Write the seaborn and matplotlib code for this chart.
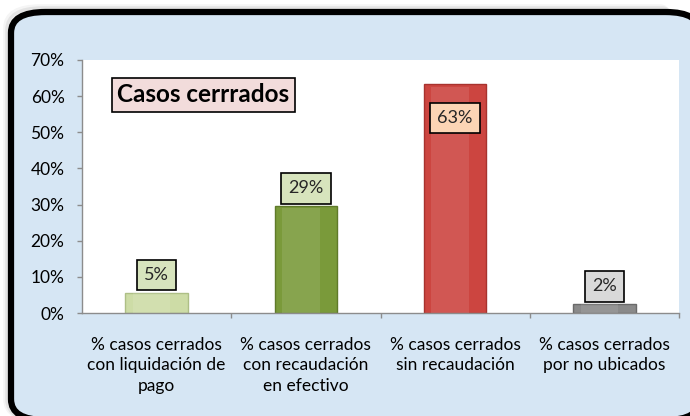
import matplotlib
matplotlib.use("Agg")
import matplotlib.pyplot as plt
import seaborn as sns
import numpy as np
from matplotlib.patches import FancyBboxPatch

categories = [
    "% casos cerrados\ncon liquidación de\npago",
    "% casos cerrados\ncon recaudación\nen efectivo",
    "% casos cerrados\nsin recaudación",
    "% casos cerrados\npor no ubicados",
]
values = [0.055, 0.295, 0.634, 0.024]
value_labels = ["5%", "29%", "63%", "2%"]
yticks = [0, 0.1, 0.2, 0.3, 0.4, 0.5, 0.6, 0.7]
ytick_labels = ["0%", "10%", "20%", "30%", "40%", "50%", "60%", "70%"]
title = "Casos cerrrados"

bar_colors = ["#cddca6", "#7a9a3a", "#cc4540", "#8a8a8a"]
bar_edges = ["#aebf86", "#5f7a2a", "#a8322e", "#6a6a6a"]
label_fills = ["#d7e4bd", "#d7e4bd", "#fcd5b5", "#d9d9d9"]

sns.set_theme(style="white")
plt.rcParams["font.family"] = ["Lato", "DejaVu Sans"]

W, H = 690, 416
fig = plt.figure(figsize=(W / 100, H / 100), dpi=100)
fig.patch.set_facecolor("white")

def fx(px):
    return px / W

def fy(py):
    return 1 - py / H

# shadow
for off, a in [(5, 0.08), (3, 0.14)]:
    sh = FancyBboxPatch((fx(11 - off), fy(420)), fx(700) - fx(11), fy(12 - off) - fy(420),
                        boxstyle="round,pad=0,rounding_size=0.05", transform=fig.transFigure,
                        facecolor="none", edgecolor="#808080", lw=4, alpha=a, zorder=0)
    fig.patches.append(sh)
frame = FancyBboxPatch((fx(11), fy(420)), fx(700) - fx(11), fy(12) - fy(420),
                       boxstyle="round,pad=0,rounding_size=0.05", transform=fig.transFigure,
                       facecolor="#d6e6f4", edgecolor="black", lw=4.5, zorder=1)
fig.patches.append(frame)

ax = fig.add_axes([fx(82), fy(313), fx(679) - fx(82), fy(60) - fy(313)])
ax.set_facecolor("white")
ax.set_zorder(2)

sns.barplot(x=list(range(len(categories))), y=values, hue=list(range(len(categories))),
            palette=bar_colors, width=0.42, legend=False, ax=ax, saturation=1)

for i, p in enumerate(ax.patches):
    p.set_edgecolor(bar_edges[i])
    p.set_linewidth(1.0)
    x0, w, h = p.get_x(), p.get_width(), p.get_height()
    ax.add_patch(plt.Rectangle((x0 + w * 0.12, 0), w * 0.6, h * 0.985,
                               facecolor="white", alpha=0.10, lw=0, zorder=3))

ax.set_xlim(-0.5, len(categories) - 0.5)
ax.set_ylim(0, 0.7)
ax.set_yticks(yticks)
ax.set_yticklabels(ytick_labels, fontsize=12.5, color="black")
ax.set_xticks(range(len(categories)))
ax.set_xticklabels(categories, fontsize=12.5, color="black", linespacing=1.35)
ax.set_xticks(np.arange(0.5, len(categories), 1), minor=True)
ax.tick_params(axis="x", which="major", length=0, pad=17)
ax.tick_params(axis="x", which="minor", length=3.6, width=1, color="#8c8c8c", direction="out", bottom=True)
ax.tick_params(axis="y", length=3.6, width=1, color="#8c8c8c", direction="out", left=True, pad=9)
ax.set_xlabel("")
ax.set_ylabel("")
for s in ["top", "right"]:
    ax.spines[s].set_visible(False)
for s in ["left", "bottom"]:
    ax.spines[s].set_color("#8c8c8c")
    ax.spines[s].set_linewidth(1)

for i, (v, lab) in enumerate(zip(values, value_labels)):
    if i == 2:
        ax.annotate(lab, (i, v), xytext=(0, -26), textcoords="offset pixels",
                    ha="center", va="top", fontsize=13, zorder=5,
                    bbox=dict(boxstyle="square,pad=0.4", facecolor=label_fills[i], edgecolor="black", lw=1.2))
    else:
        ax.annotate(lab, (i, v), xytext=(0, 10), textcoords="offset pixels",
                    ha="center", va="bottom", fontsize=13, zorder=5,
                    bbox=dict(boxstyle="square,pad=0.4", facecolor=label_fills[i], edgecolor="black", lw=1.2))

ax.text(0.203, 0.862, title, transform=ax.transAxes, ha="center", va="center",
        fontsize=17.5, fontweight="bold", color="black", zorder=6,
        bbox=dict(boxstyle="square,pad=0.22", facecolor="#f2dcdb", edgecolor="black", lw=1.2))

fig.savefig("out.png", dpi=100)
